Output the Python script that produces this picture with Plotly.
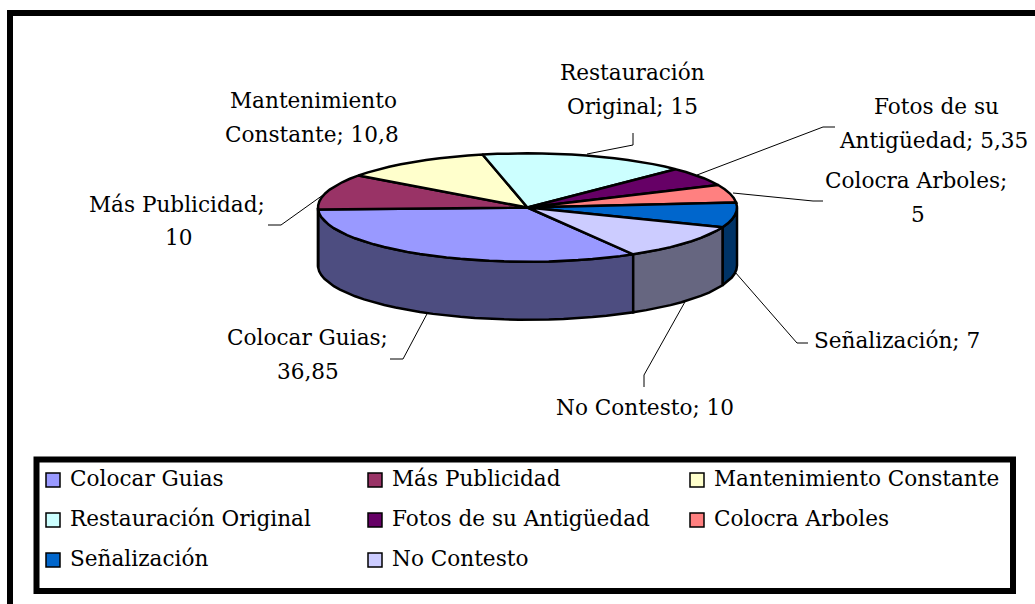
import numpy as np
import plotly.graph_objects as go

# ---- data ----
categories = ["Colocar Guias", "Más Publicidad", "Mantenimiento Constante",
              "Restauración Original", "Fotos de su Antigüedad", "Colocra Arboles",
              "Señalización", "No Contesto"]
values = [36.85, 10, 10.8, 15, 5.35, 5, 7, 10]
top_colors = ["#9999FF", "#993366", "#FFFFCC", "#CCFFFF", "#660066", "#FF8080", "#0066CC", "#CCCCFF"]
wall_colors = ["#4D4D80", "#4D1A33", "#808066", "#668080", "#330033", "#804040", "#003366", "#666680"]

# ---- label lines (text, centre x, centre y) ----
label_lines = [
    ("Restauración", 632, 72), ("Original; 15", 632, 106),
    ("Fotos de su", 936, 106), ("Antigüedad; 5,35", 933, 140),
    ("Colocra Arboles;", 916, 180), ("5", 918, 214),
    ("Señalización; 7", 897, 340),
    ("No Contesto; 10", 645, 407),
    ("Colocar Guias;", 307, 337), ("36,85", 308, 371),
    ("Más Publicidad;", 177, 204), ("10", 178, 237),
    ("Mantenimiento", 313, 100), ("Constante; 10,8", 312, 134),
]
leaders = [
    [(587, 154), (633, 145), (633, 133)],
    [(697, 175), (823, 127), (835, 127)],
    [(733, 193), (813, 201), (823, 201)],
    [(735, 272), (797, 343), (808, 343)],
    [(686, 300), (644, 375), (644, 387)],
    [(428, 312), (403, 359), (390, 359)],
    [(323, 195), (281, 225), (268, 225)],
]
legend_x = [46, 368, 690]
legend_y = [480, 520, 560]

# ---- pie projection ----
CX, CY, RX, RY, DEPTH = 527.5, 207.5, 209.5, 54.2, 58
START = 149.7      # clockwise from 12 o'clock
FIRST_SPAN = 118.3 # apparent sweep of the first slice on the tilted disc
FONT = "DejaVu Serif"
FS = 21.6
EDGE = 2.5

share = np.array(values, dtype=float) / sum(values) * 360
edges = np.concatenate([[0], np.cumsum(share)])


def projected(u):
    return START + np.interp(u, [0, share[0], 360], [0, FIRST_SPAN, 360])


def pt(theta, dy=0.0):
    r = np.radians(theta)
    return CX + RX * np.sin(r), CY - RY * np.cos(r) + dy


fig = go.Figure()

# side walls: only the part of each slice facing the viewer (90..270 deg)
for i, name in enumerate(categories):
    a, b = projected(edges[i]), projected(edges[i + 1])
    for shift in (0, 360, -360):
        lo, hi = max(a + shift, 90), min(b + shift, 270)
        if hi > lo:
            t = np.linspace(lo, hi, max(2, int((hi - lo) / 4) + 1))
            x1, y1 = pt(t)
            x2, y2 = pt(t[::-1], DEPTH)
            fig.add_trace(go.Scatter(
                x=np.concatenate([x1, x2, x1[:1]]), y=np.concatenate([y1, y2, y1[:1]]),
                mode="lines", fill="toself", fillcolor=wall_colors[i],
                line=dict(color="black", width=EDGE), showlegend=False, hoverinfo="skip"))

# top faces
for i, name in enumerate(categories):
    a, b = projected(edges[i]), projected(edges[i + 1])
    t = np.linspace(a, b, max(2, int((b - a) / 4) + 1))
    x, y = pt(t)
    fig.add_trace(go.Scatter(
        x=np.concatenate([[CX], x, [CX]]), y=np.concatenate([[CY], y, [CY]]),
        mode="lines", fill="toself", fillcolor=top_colors[i],
        line=dict(color="black", width=EDGE), name=name, showlegend=False,
        hovertemplate=f"{name}: {values[i]}<extra></extra>"))

shapes = []
for path in leaders:
    d = "M" + " L".join(f"{x},{y}" for x, y in path)
    shapes.append(dict(type="path", path=d, line=dict(color="black", width=1), layer="above"))

# outer frame (left and top edges are the ones inside the picture)
shapes.append(dict(type="line", x0=10, x1=10, y0=10, y1=604, line=dict(color="black", width=6)))
shapes.append(dict(type="line", x0=7, x1=1035, y0=13, y1=13, line=dict(color="black", width=6)))
# legend box
shapes.append(dict(type="rect", x0=36.5, x1=1013, y0=459.5, y1=591,
                   line=dict(color="black", width=6), fillcolor="white", layer="below"))

annotations = [dict(x=x, y=y, text=s, showarrow=False, xanchor="center", yanchor="middle",
                    font=dict(family=FONT, size=FS, color="black"))
               for s, x, y in label_lines]

for i, name in enumerate(categories):
    col, row = i % 3, i // 3
    sx, sy = legend_x[col], legend_y[row]
    shapes.append(dict(type="rect", x0=sx, x1=sx + 14, y0=sy - 7, y1=sy + 7,
                       fillcolor=top_colors[i], line=dict(color="black", width=1.5), layer="above"))
    annotations.append(dict(x=sx + 21.5, y=sy - 2, text=name, showarrow=False, xanchor="left",
                            yanchor="middle", font=dict(family=FONT, size=FS, color="black")))

fig.update_layout(
    width=1035, height=604, margin=dict(l=0, r=0, t=0, b=0),
    paper_bgcolor="white", plot_bgcolor="white", showlegend=False,
    xaxis=dict(range=[0, 1035], visible=False, fixedrange=True),
    yaxis=dict(range=[604, 0], visible=False, fixedrange=True),
    shapes=shapes, annotations=annotations,
)
fig.write_html("out.html", config=dict(displayModeBar=False),
               post_script="document.body.style.margin='0';document.body.style.overflow='hidden';")
